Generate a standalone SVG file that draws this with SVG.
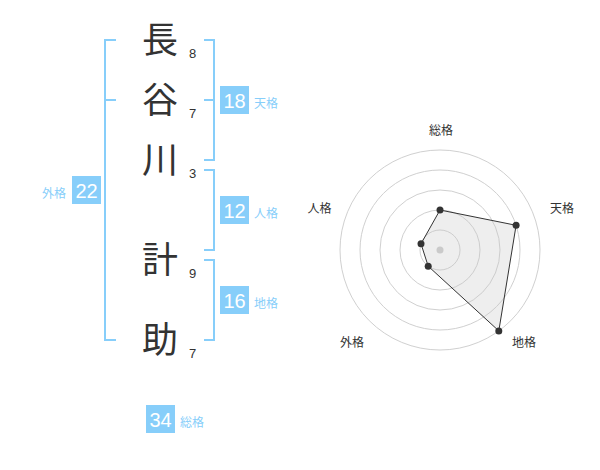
<svg xmlns="http://www.w3.org/2000/svg" width="600" height="470" viewBox="0 0 600 470">
<style>
.br{fill:none;stroke:#87cefa;stroke-width:2}
.ch{font-family:"Noto Sans CJK JP",sans-serif;font-size:36px;fill:#333;text-anchor:middle}
.sc{font-family:"Liberation Sans",Arial,sans-serif;font-size:13px;fill:#333}
.box{fill:#87cefa}
.bn{font-family:"Liberation Sans",Arial,sans-serif;font-size:20px;fill:#fff;text-anchor:middle}
.lb{font-family:"Noto Sans CJK JP",sans-serif;font-size:12px;fill:#87cefa}
.rc{fill:none;stroke:#d0d0d0;stroke-width:1}
.rl{font-family:"Noto Sans CJK JP",sans-serif;font-size:12px;fill:#333;text-anchor:middle}
.pt{fill:#333}
</style>
<rect width="600" height="470" fill="#fff"/>
<g id="connectors">
<path class="br" d="M116,40 H105 V340 H116 M105,100 H116"/>
<path class="br" d="M204,40 H214 V160 H204 M204,100 H214"/>
<path class="br" d="M204,170 H214 V250 H204"/>
<path class="br" d="M204,260 H214 V340 H204"/>
</g>
<g id="char-1"><text class="ch" x="160" y="53">長</text><text class="sc" x="189" y="57.5">8</text></g>
<g id="char-2"><text class="ch" x="160" y="113">谷</text><text class="sc" x="189" y="117.5">7</text></g>
<g id="char-3"><text class="ch" x="160" y="173">川</text><text class="sc" x="189" y="177.5">3</text></g>
<g id="char-4"><text class="ch" x="160" y="273">計</text><text class="sc" x="189" y="277.5">9</text></g>
<g id="char-5"><text class="ch" x="160" y="353">助</text><text class="sc" x="189" y="357.5">7</text></g>
<g id="tenkaku"><rect class="box" x="220" y="86" width="29" height="28"/><text class="bn" x="234.5" y="107.5">18</text><text class="lb" x="254" y="108">天格</text></g>
<g id="jinkaku"><rect class="box" x="220" y="196" width="29" height="28"/><text class="bn" x="234.5" y="217.5">12</text><text class="lb" x="254" y="218">人格</text></g>
<g id="chikaku"><rect class="box" x="220" y="286" width="29" height="28"/><text class="bn" x="234.5" y="307.5">16</text><text class="lb" x="254" y="308">地格</text></g>
<g id="gaikaku"><rect class="box" x="72" y="176" width="29" height="28"/><text class="bn" x="86.5" y="197.5">22</text><text class="lb" x="66" y="198" text-anchor="end">外格</text></g>
<g id="soukaku"><rect class="box" x="146" y="405" width="29" height="28"/><text class="bn" x="160.5" y="426.5">34</text><text class="lb" x="180" y="427">総格</text></g>
<g id="radar">
<circle class="rc" cx="440" cy="250" r="20"/>
<circle class="rc" cx="440" cy="250" r="40"/>
<circle class="rc" cx="440" cy="250" r="60"/>
<circle class="rc" cx="440" cy="250" r="80"/>
<circle class="rc" cx="440" cy="250" r="100"/>
<circle cx="440" cy="250" r="3.5" fill="#ccc"/>
<polygon points="440,210 516.1,225.3 498.8,330.9 428.2,266.2 421,243.8" fill="rgba(200,200,200,0.3)" stroke="#333" stroke-width="1"/>
<circle class="pt" cx="440" cy="210" r="3.5"/>
<circle class="pt" cx="516.1" cy="225.3" r="3.5"/>
<circle class="pt" cx="498.8" cy="330.9" r="3.5"/>
<circle class="pt" cx="428.2" cy="266.2" r="3.5"/>
<circle class="pt" cx="421" cy="243.8" r="3.5"/>
<text class="rl" x="441" y="135">総格</text>
<text class="rl" x="562" y="213">天格</text>
<text class="rl" x="524" y="347">地格</text>
<text class="rl" x="352" y="347">外格</text>
<text class="rl" x="319.5" y="213">人格</text>
</g>
</svg>
